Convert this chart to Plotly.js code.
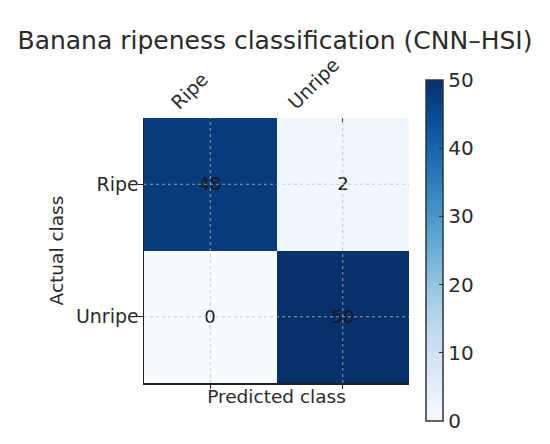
<!DOCTYPE html>
<html>
<head>
<meta charset="utf-8">
<script src="https://cdn.plot.ly/plotly-3.0.1.min.js"></script>
<style>html,body{margin:0;padding:0;background:#fff;}#chart{width:550px;height:444px;}</style>
</head>
<body>
<div id="chart"></div>
<script>
const predictedClasses = ["Ripe", "Unripe"];
const actualClasses = ["Ripe", "Unripe"];
const counts = [
  [48, 2],
  [0, 50]
];
const colorbarTicks = [0, 10, 20, 30, 40, 50];

const blues = [
  [0, "#f7fbff"], [0.125, "#deebf7"], [0.25, "#c6dbef"], [0.375, "#9ecae1"],
  [0.5, "#6baed6"], [0.625, "#4292c6"], [0.75, "#2171b5"], [0.875, "#08519c"], [1, "#08306b"]
];

const font = "DejaVu Sans, sans-serif";
const txt = "#2b2b2b";

const trace = {
  type: "heatmap",
  x: predictedClasses,
  y: actualClasses,
  z: counts,
  zmin: 0, zmax: 50,
  colorscale: blues,
  texttemplate: "%{z}",
  textfont: {family: font, size: 18, color: "#1a1a1a"},
  xgap: 0, ygap: 0,
  hoverinfo: "skip",
  colorbar: {
    thickness: 17, thicknessmode: "pixels",
    len: 341, lenmode: "pixels",
    x: 1.064, xanchor: "left", xpad: 0,
    y: 0.5, yanchor: "middle", ypad: 0,
    outlinewidth: 1.5, outlinecolor: "#333",
    tickvals: colorbarTicks,
    ticks: "inside", ticklen: 4, tickcolor: "#333",
    tickfont: {family: font, size: 20, color: txt}
  }
};

const grid = {color: "rgba(185,185,185,0.75)", width: 1, dash: "3px,3px"};
const shapes = [];
predictedClasses.forEach(c => shapes.push({type: "line", layer: "above", xref: "x", yref: "paper", x0: c, x1: c, y0: 0, y1: 1, line: grid}));
actualClasses.forEach(c => shapes.push({type: "line", layer: "above", xref: "paper", yref: "y", x0: 0, x1: 1, y0: c, y1: c, line: grid}));

// top tick labels, rotated, ending above their tick
const annotations = predictedClasses.map(c => ({
  x: c, xref: "x", y: 1, yref: "paper",
  text: c, showarrow: false, textangle: -45,
  xanchor: "right", yanchor: "bottom", xshift: 4, yshift: 2,
  font: {family: font, size: 19, color: txt}
}));

const layout = {
  width: 550, height: 444,
  margin: {l: 144, r: 141, t: 118, b: 61},
  paper_bgcolor: "#fff", plot_bgcolor: "#fff",
  font: {family: font, color: txt},
  title: {text: "Banana ripeness classification (CNN–HSI)", font: {family: font, size: 25, color: txt}, x: 0.5, xanchor: "center", y: 0.91, yanchor: "middle"},
  xaxis: {
    side: "top", type: "category",
    showgrid: false, zeroline: false, showline: false,
    showticklabels: false,
    ticks: "inside", ticklen: 4, tickcolor: "#333",
    range: [-0.5, 1.5]
  },
  xaxis2: {
    overlaying: "x", side: "bottom", anchor: "y",
    range: [-0.5, 1.5], tickvals: [0, 1], showticklabels: false,
    ticks: "outside", ticklen: 4, tickcolor: "#222",
    showline: true, linecolor: "#222", linewidth: 1.5,
    showgrid: false, zeroline: false,
    title: {text: "Predicted class", font: {family: font, size: 18.5, color: txt}, standoff: 2}
  },
  yaxis: {
    type: "category", autorange: "reversed",
    showgrid: false, zeroline: false,
    showline: true, linecolor: "#222", linewidth: 1.5,
    ticks: "outside", ticklen: 5, tickcolor: "#222",
    ticklabelstandoff: -5,
    tickfont: {family: font, size: 19, color: txt},
    title: {text: "Actual class", font: {family: font, size: 18.5, color: txt}, standoff: 7}
  },
  shapes: shapes,
  annotations: annotations,
  showlegend: false
};

const dummy = {type: "scatter", x: [], y: [], xaxis: "x2", yaxis: "y", hoverinfo: "skip", showlegend: false};

Plotly.newPlot("chart", [trace, dummy], layout, {displayModeBar: false, staticPlot: true});
</script>
</body>
</html>
